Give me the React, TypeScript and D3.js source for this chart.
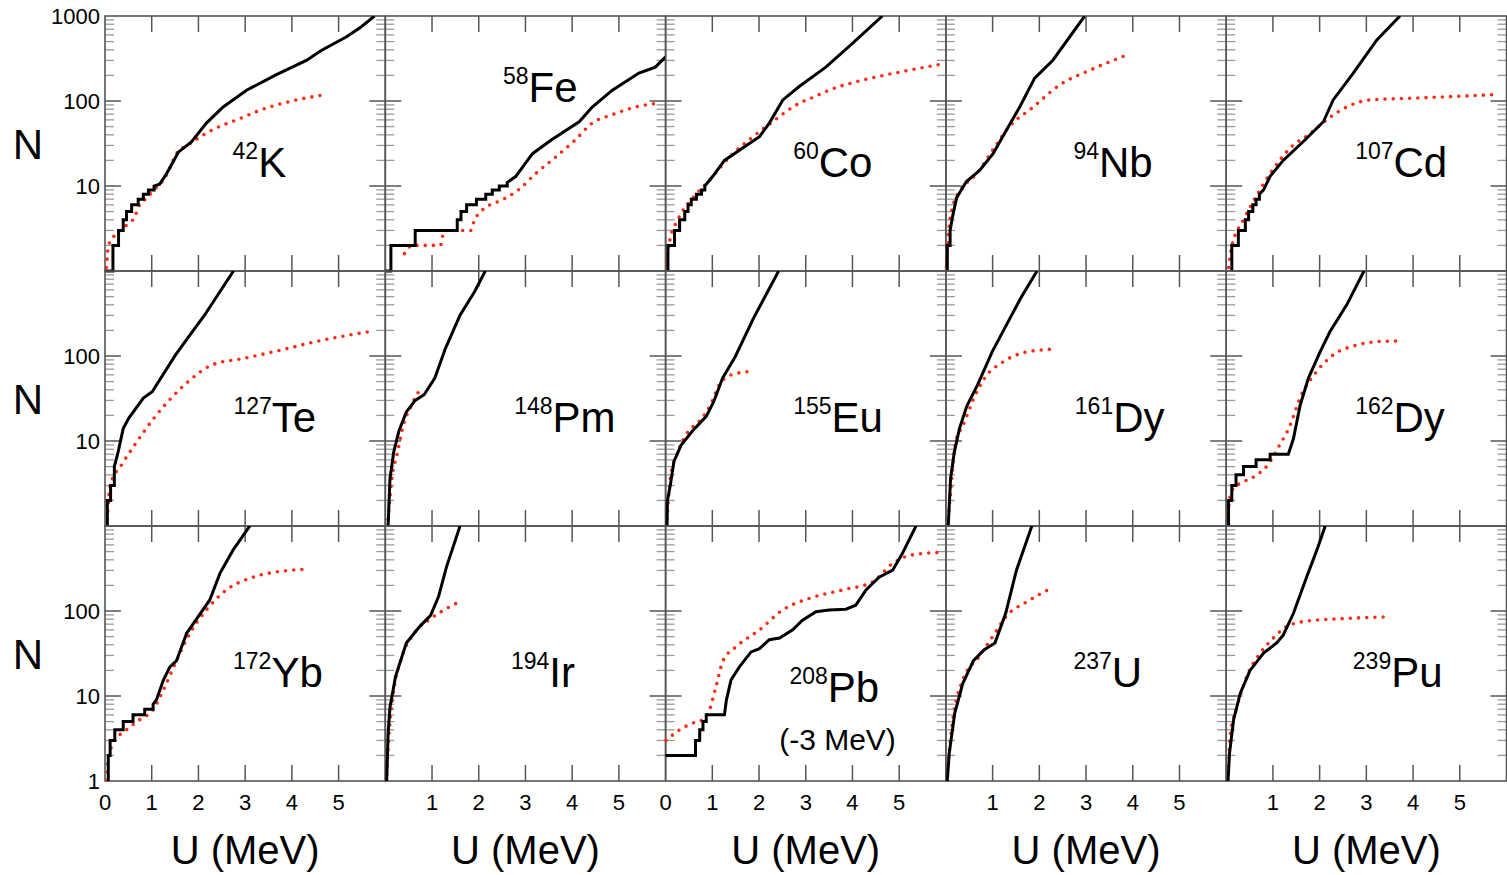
import React from "react";
import * as d3 from "d3";

// page + grid geometry (5 columns x 3 rows of panels sharing axes)
const W = 1507;
const H = 875;
const LEFT = 105;
const TOP = 16;
const PW = 280.3;
const PH = 255;
const FONT = "Liberation Sans, Arial, Helvetica, sans-serif";

const U_DOMAIN: [number, number] = [0, 6];
const N_DOMAIN: [number, number] = [1, 1000];
const U_TICKS = [1, 2, 3, 4, 5];
const N_MAJOR = [10, 100];
const N_MINOR_DECADES = [1, 10, 100];
const X_TICK_LABELS = [
  [0, 1, 2, 3, 4, 5],
  [1, 2, 3, 4, 5],
  [0, 1, 2, 3, 4, 5],
  [1, 2, 3, 4, 5],
  [1, 2, 3, 4, 5],
];
const Y_TICK_LABELS = [[1000, 100, 10], [100, 10], [100, 10, 1]];

const MASS = ["42", "58", "60", "94", "107", "127", "148", "155", "161", "162", "172", "194", "208", "237", "239"];
const ELEMENT = ["K", "Fe", "Co", "Nb", "Cd", "Te", "Pm", "Eu", "Dy", "Dy", "Yb", "Ir", "Pb", "U", "Pu"];

// [U (MeV), N] — black = experimental level count, red = model
const K42_EXP = [[0, 1], [0.17, 1], [0.17, 2], [0.29, 2], [0.29, 3], [0.39, 3], [0.39, 4], [0.46, 4], [0.46, 5], [0.57, 5], [0.57, 6], [0.71, 6], [0.71, 7], [0.82, 7], [0.82, 8], [0.93, 8], [0.93, 9], [1.05, 9], [1.05, 10], [1.17, 10.5], [1.32, 14], [1.57, 25], [1.85, 33], [2.17, 55], [2.53, 85], [3.03, 134], [3.67, 204], [4.31, 300], [4.62, 390], [5.17, 570], [5.45, 720], [5.77, 1000]];
const K42_MODEL = [[0.03, 1.1], [0.05, 1.5], [0.07, 1.95], [0.2, 2.6], [0.32, 3], [0.55, 3.8], [0.64, 4.3], [0.7, 5.5], [0.78, 6.3], [0.89, 7.2], [1.05, 9], [1.21, 11], [1.32, 13.5], [1.53, 24], [1.82, 31.6], [2.31, 46], [2.88, 62], [3.46, 83], [4.1, 103], [4.77, 120]];

const FE58_EXP = [[0, 1], [0.12, 1], [0.12, 2], [0.64, 2], [0.64, 3], [1.54, 3], [1.54, 4], [1.62, 4], [1.62, 5], [1.74, 5], [1.74, 6], [1.95, 6], [1.95, 7], [2.15, 7], [2.15, 8], [2.29, 8], [2.29, 9], [2.44, 9], [2.44, 10], [2.61, 10], [2.61, 11], [2.79, 12.9], [3.15, 24], [3.56, 35], [4.15, 57], [4.43, 85], [4.86, 134], [5.43, 213], [5.78, 250], [6.0, 330]];
const FE58_MODEL = [[0.41, 1.6], [0.58, 2], [1.18, 2], [1.26, 3], [1.83, 3], [1.91, 4], [2.01, 4.8], [2.15, 5.6], [2.51, 6.9], [2.86, 9.1], [3.22, 14], [3.65, 22], [4.07, 35], [4.43, 55], [4.86, 69], [5.36, 85], [5.82, 94]];

const CO60_EXP = [[0.05, 1], [0.05, 2], [0.19, 2], [0.19, 3], [0.3, 3], [0.3, 4], [0.41, 4], [0.41, 5], [0.48, 5], [0.48, 6], [0.55, 6], [0.55, 7], [0.66, 7], [0.66, 8], [0.77, 8], [0.77, 9], [0.84, 9], [0.84, 10], [1.01, 13], [1.26, 20], [1.65, 28], [2.01, 38], [2.22, 55], [2.51, 103], [2.86, 148], [3.43, 250], [4.0, 475], [4.64, 1000]];
const CO60_MODEL = [[0.03, 1.2], [0.04, 1.6], [0.09, 2.3], [0.26, 4], [0.58, 7.2], [0.94, 11.7], [1.37, 22], [1.79, 35], [2.29, 57], [2.58, 75], [2.86, 94], [3.15, 110], [3.5, 134], [4.29, 180], [5.07, 222], [5.96, 275]];

const NB94_EXP = [[0.03, 1], [0.03, 2], [0.09, 2], [0.09, 3], [0.14, 4.3], [0.23, 7.3], [0.44, 11.3], [0.73, 15.4], [1.01, 24], [1.3, 46], [1.58, 85], [1.9, 186], [2.29, 302], [2.97, 1000]];
const NB94_MODEL = [[0.01, 1.1], [0.05, 2.5], [0.16, 6.1], [0.34, 9.3], [0.66, 14], [1.05, 29], [1.33, 48], [1.87, 85], [2.44, 155], [3.08, 230], [3.86, 345]];

const CD107_EXP = [[0.12, 1], [0.12, 2], [0.26, 2], [0.26, 3], [0.41, 3], [0.41, 4], [0.48, 4], [0.48, 5], [0.57, 5], [0.57, 6], [0.64, 6], [0.64, 7], [0.71, 7], [0.71, 8], [0.8, 9], [0.94, 13], [1.22, 20], [1.69, 35], [2.08, 57], [2.29, 103], [2.72, 213], [3.22, 520], [3.72, 1000]];
const CD107_MODEL = [[0.05, 1.1], [0.12, 1.95], [0.37, 4], [0.62, 7.2], [0.94, 14], [1.4, 29], [1.79, 41], [2.15, 60], [2.58, 85], [3.08, 103], [3.79, 107], [4.72, 112], [5.75, 119]];

const TE127_EXP = [[0.05, 1], [0.05, 2], [0.12, 2], [0.12, 3], [0.2, 3], [0.2, 5], [0.28, 7.4], [0.39, 14], [0.51, 18.6], [0.82, 32], [1.01, 38], [1.51, 103], [1.82, 177], [2.13, 302], [2.75, 1000]];
const TE127_MODEL = [[0.05, 1.2], [0.11, 3], [0.36, 5.3], [0.63, 8.9], [1.05, 18.6], [1.44, 33], [1.82, 52], [2.28, 78], [2.98, 94], [3.75, 117], [4.52, 148], [5.64, 193]];

const PM148_EXP = [[0.06, 1], [0.1, 3.6], [0.18, 7.4], [0.29, 13], [0.45, 22], [0.64, 30], [0.83, 35], [1.06, 55], [1.29, 124], [1.6, 302], [1.91, 570], [2.14, 1000]];
const PM148_MODEL = [[0.06, 1.2], [0.14, 3.6], [0.25, 6.9], [0.41, 17], [0.56, 26], [0.67, 35], [0.83, 42]];

const EU155_EXP = [[0.03, 1], [0.04, 2], [0.1, 3], [0.18, 5.8], [0.33, 8.9], [0.57, 13], [0.87, 19.5], [1.03, 29], [1.22, 55], [1.49, 98], [1.88, 277], [2.42, 1000]];
const EU155_MODEL = [[0.03, 1.2], [0.1, 3.6], [0.26, 7.4], [0.49, 13], [0.72, 17], [0.95, 26], [1.15, 46], [1.41, 60], [1.84, 66]];

const DY161_EXP = [[0.05, 1], [0.1, 3.6], [0.18, 7.4], [0.29, 14], [0.45, 26], [0.68, 46], [0.99, 112], [1.37, 277], [1.6, 477], [1.95, 1000]];
const DY161_MODEL = [[0.05, 1.2], [0.1, 2.5], [0.21, 9.8], [0.37, 15.4], [0.6, 32], [0.83, 55], [1.22, 85], [1.68, 110], [2.26, 120]];

const DY162_EXP = [[0.05, 1], [0.05, 2], [0.12, 2], [0.12, 3], [0.21, 3], [0.21, 4], [0.37, 4], [0.37, 5], [0.64, 5], [0.64, 6], [0.94, 6], [0.94, 7], [1.33, 7], [1.44, 10.7], [1.58, 26], [1.76, 55], [2.01, 112], [2.22, 193], [2.58, 400], [2.95, 1000]];
const DY162_MODEL = [[0.04, 1.4], [0.08, 2.2], [0.16, 2.8], [0.37, 3.3], [0.66, 4], [0.9, 5.3], [1.12, 8.5], [1.37, 15.4], [1.58, 32], [1.94, 66], [2.29, 103], [2.79, 134], [3.29, 148], [3.72, 150]];

const YB172_EXP = [[0.07, 1], [0.07, 2], [0.11, 2], [0.11, 3], [0.21, 3], [0.21, 4], [0.39, 4], [0.39, 5], [0.6, 5], [0.6, 6], [0.85, 6], [0.85, 7], [1.03, 7], [1.03, 8], [1.1, 9], [1.25, 15.4], [1.39, 22], [1.53, 26], [1.75, 55], [1.89, 71], [2.24, 134], [2.46, 277], [2.74, 520], [3.1, 1000]];
const YB172_MODEL = [[0.04, 1.02], [0.07, 1.8], [0.18, 2.8], [0.46, 4], [0.75, 5.3], [1.03, 6.9], [1.25, 11.8], [1.53, 26], [1.82, 55], [2.17, 103], [2.6, 177], [3.17, 250], [3.67, 288], [4.24, 309]];

const IR194_EXP = [[0.03, 1], [0.06, 3.6], [0.1, 7.4], [0.22, 17], [0.45, 42], [0.74, 66], [0.97, 89], [1.14, 148], [1.31, 331], [1.6, 1000]];
const IR194_MODEL = [[0.03, 1.2], [0.08, 3.6], [0.16, 9.8], [0.33, 26], [0.62, 55], [0.97, 81], [1.31, 107], [1.66, 134]];

const PB208_EXP = [[0, 2], [0.64, 2], [0.64, 3], [0.73, 3], [0.73, 4], [0.8, 4], [0.8, 5], [0.87, 5], [0.87, 6], [1.26, 6], [1.3, 8.9], [1.4, 15.4], [1.58, 22], [1.83, 33], [2.01, 36], [2.22, 46], [2.44, 48], [2.72, 60], [2.93, 78], [3.22, 98], [3.5, 103], [3.86, 105], [4.07, 117], [4.29, 177], [4.57, 250], [4.86, 302], [5.07, 477], [5.36, 1000]];
const PB208_MODEL = [[0.01, 3], [0.3, 4], [0.58, 4.8], [0.8, 5.3], [0.94, 6.9], [1.08, 13], [1.23, 26], [1.51, 38], [2.01, 60], [2.51, 103], [3.08, 141], [3.79, 177], [4.43, 220], [4.86, 363], [5.28, 457], [5.93, 490]];

const U237_EXP = [[0.03, 1], [0.07, 2.1], [0.19, 6.3], [0.36, 14], [0.59, 26], [0.82, 35], [1.05, 42], [1.28, 94], [1.51, 302], [1.84, 1000]];
const U237_MODEL = [[0.03, 1.2], [0.13, 4.4], [0.36, 15.4], [0.71, 29], [1.05, 55], [1.28, 85], [1.74, 129], [2.26, 186]];

const PU239_EXP = [[0.04, 1], [0.07, 2.1], [0.16, 5.3], [0.3, 10.7], [0.51, 20], [0.8, 32], [1.08, 42], [1.22, 52], [1.44, 94], [1.72, 250], [1.94, 520], [2.12, 1000]];
const PU239_MODEL = [[0.04, 1.2], [0.09, 3.6], [0.23, 7.4], [0.44, 17], [0.73, 32], [1.01, 48], [1.3, 66], [1.72, 76], [2.44, 81], [3.4, 85]];

const EXP = [K42_EXP, FE58_EXP, CO60_EXP, NB94_EXP, CD107_EXP, TE127_EXP, PM148_EXP, EU155_EXP, DY161_EXP, DY162_EXP, YB172_EXP, IR194_EXP, PB208_EXP, U237_EXP, PU239_EXP];
const MODEL = [K42_MODEL, FE58_MODEL, CO60_MODEL, NB94_MODEL, CD107_MODEL, TE127_MODEL, PM148_MODEL, EU155_MODEL, DY161_MODEL, DY162_MODEL, YB172_MODEL, IR194_MODEL, PB208_MODEL, U237_MODEL, PU239_MODEL];

// where the nucleus label sits, in (U, N) of its own panel
const LABEL_AT = [[2.73, 12.7], [2.52, 98], [2.73, 12.7], [2.73, 12.7], [2.76, 12.7], [2.75, 12.7], [2.76, 12.7], [2.73, 12.7], [2.76, 12.7], [2.76, 12.7], [2.74, 12.7], [2.69, 12.7], [2.65, 8.5], [2.73, 12.7], [2.71, 12.7]];
const NOTE_AT = [3.68, 2.3];

export default function App() {
  const panels = EXP.map((_, i) => {
    const col = i % 5;
    const row = Math.floor(i / 5);
    const x0 = LEFT + col * PW;
    const y0 = TOP + row * PH;
    const xs = d3.scaleLinear().domain(U_DOMAIN).range([x0, x0 + PW]);
    const ys = d3.scaleLog().domain(N_DOMAIN).range([y0 + PH, y0]);
    const expLine = d3.line<number[]>().x((d) => xs(d[0])).y((d) => ys(d[1]));
    const modelLine = d3
      .line<number[]>()
      .x((d) => xs(d[0]))
      .y((d) => ys(d[1]))
      .curve(d3.curveMonotoneX);

    const minors: number[] = [];
    N_MINOR_DECADES.forEach((dec) => {
      for (let k = 2; k <= 9; k++) minors.push(dec * k);
    });

    return (
      <g key={i}>
        <clipPath id={`clip-${i}`}>
          <rect x={x0 - 2} y={y0} width={PW + 2} height={PH + 2} />
        </clipPath>
        {/* minor N ticks, both sides */}
        {minors.map((v) => (
          <g key={v} stroke="#9a9a9a" strokeWidth={1.3}>
            <line x1={x0} x2={x0 + 9} y1={ys(v)} y2={ys(v)} />
            <line x1={x0 + PW - 9} x2={x0 + PW} y1={ys(v)} y2={ys(v)} />
          </g>
        ))}
        {N_MAJOR.map((v) => (
          <g key={v} stroke="#555" strokeWidth={1.5}>
            <line x1={x0} x2={x0 + 16} y1={ys(v)} y2={ys(v)} />
            <line x1={x0 + PW - 16} x2={x0 + PW} y1={ys(v)} y2={ys(v)} />
          </g>
        ))}
        {U_TICKS.map((u) => (
          <g key={u} stroke="#555" strokeWidth={1.5}>
            <line x1={xs(u)} x2={xs(u)} y1={y0} y2={y0 + 16} />
            <line x1={xs(u)} x2={xs(u)} y1={y0 + PH - 16} y2={y0 + PH} />
          </g>
        ))}
        <rect x={x0} y={y0} width={PW} height={PH} fill="none" stroke="#555" strokeWidth={1.6} />

        <g clipPath={`url(#clip-${i})`}>
          <path
            d={modelLine(MODEL[i]) || ""}
            fill="none"
            stroke="#ff2a10"
            strokeWidth={3.6}
            strokeLinecap="round"
            strokeDasharray="0 8.2"
          />
          <path d={expLine(EXP[i]) || ""} fill="none" stroke="#000" strokeWidth={3} strokeLinejoin="miter" />
        </g>

        <text x={xs(LABEL_AT[i][0])} y={ys(LABEL_AT[i][1])} fontSize={42} fontFamily={FONT} fill="#000">
          <tspan fontSize={23} dy={-18}>
            {MASS[i]}
          </tspan>
          <tspan dy={18}>{ELEMENT[i]}</tspan>
        </text>
        {ELEMENT[i] === "Pb" && (
          <text x={xs(NOTE_AT[0])} y={ys(NOTE_AT[1])} fontSize={30} fontFamily={FONT} textAnchor="middle">
            (-3 MeV)
          </text>
        )}

        {row === 2 &&
          X_TICK_LABELS[col].map((u) => (
            <text key={u} x={xs(u)} y={y0 + PH + 29} fontSize={22} fontFamily={FONT} textAnchor="middle">
              {u}
            </text>
          ))}
        {row === 2 && (
          <text x={x0 + PW / 2} y={864} fontSize={40} fontFamily={FONT} textAnchor="middle">
            U (MeV)
          </text>
        )}
        {col === 0 &&
          Y_TICK_LABELS[row].map((v) => (
            <text key={v} x={x0 - 5} y={ys(v)} dy="0.36em" fontSize={22} fontFamily={FONT} textAnchor="end">
              {v}
            </text>
          ))}
        {col === 0 && (
          <text x={28} y={y0 + PH / 2 + 15} fontSize={42} fontFamily={FONT} textAnchor="middle">
            N
          </text>
        )}
      </g>
    );
  });

  return (
    <svg
      width={W}
      height={H}
      viewBox={`0 0 ${W} ${H}`}
      style={{ position: "absolute", left: 0, top: 0, background: "#fff", display: "block" }}
    >
      <rect width={W} height={H} fill="#fff" />
      {panels}
    </svg>
  );
}
